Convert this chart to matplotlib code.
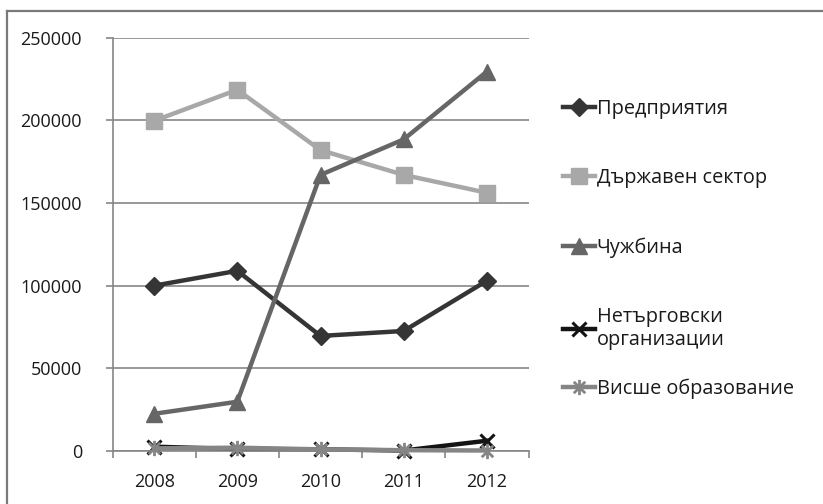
import matplotlib
matplotlib.use("Agg")
import matplotlib.pyplot as plt
from matplotlib.lines import Line2D
from matplotlib.path import Path

plt.rcParams['font.family'] = ['Open Sans', 'DejaVu Sans']

years = ['2008', '2009', '2010', '2011', '2012']
enterprises = [100000, 109000, 69600, 72600, 103000]
state_sector = [199700, 218500, 182000, 167000, 156200]
abroad = [22500, 29800, 167000, 188500, 229500]
nonprofit = [2600, 1200, 1000, 300, 6200]
higher_edu = [1600, 2000, 1000, 500, 300]

labels = ['Предприятия', 'Държавен сектор', 'Чужбина',
          'Нетърговски\nорганизации', 'Висше образование']
yticks = [0, 50000, 100000, 150000, 200000, 250000]

grid_c = '#868686'

# asterisk marker: X plus a vertical bar
star = Path([(0, -1), (0, 1), (-0.75, -0.75), (0.75, 0.75), (-0.75, 0.75), (0.75, -0.75)],
            [Path.MOVETO, Path.LINETO, Path.MOVETO, Path.LINETO, Path.MOVETO, Path.LINETO])

fig = plt.figure(figsize=(8.23, 5.04), dpi=100)
ax = fig.add_axes([112.5 / 823, 1 - 451 / 504, 416 / 823, 413.3 / 504])

x = range(len(years))
lw = 3.2
h1, = ax.plot(x, enterprises, color='#353535', lw=lw, marker='D', ms=9, label=labels[0])
h2, = ax.plot(x, state_sector, color='#a8a8a8', lw=lw, marker='s', ms=12, label=labels[1])
h3, = ax.plot(x, abroad, color='#666666', lw=lw, marker='^', ms=12, label=labels[2])
h4, = ax.plot(x, nonprofit, color='#141414', lw=lw, marker='x', ms=10, mew=2.2, label=labels[3])
h5, = ax.plot(x, higher_edu, color='#858585', lw=lw, marker=star, ms=11, mew=2,
              label=labels[4])
for h in (h1, h2, h3, h4, h5):
    h.set_clip_on(False)

ax.set_xlim(-0.5, len(years) - 0.5)
ax.set_ylim(0, 250000)
ax.set_yticks(yticks)
ax.set_yticklabels([str(v) for v in yticks])
ax.set_xticks(list(x))
ax.set_xticklabels(years)
ax.set_xticks([i - 0.5 for i in range(len(years) + 1)], minor=True)

ax.yaxis.grid(True, color=grid_c, lw=1.2)
ax.set_axisbelow(True)
for s in ('top', 'right'):
    ax.spines[s].set_visible(False)
for s in ('left', 'bottom'):
    ax.spines[s].set_color(grid_c)
    ax.spines[s].set_linewidth(1.2)

ax.tick_params(axis='y', direction='out', length=5, width=1.2, color=grid_c,
               labelsize=13, pad=17, labelcolor='#1a1a1a')
ax.tick_params(axis='x', which='major', length=0, labelsize=13, pad=16,
               labelcolor='#1a1a1a')
ax.tick_params(axis='x', which='minor', direction='out', length=5, width=1.2, color=grid_c)

kw = dict(frameon=False, fontsize=14.3, handlelength=1.6, handletextpad=0.1,
          borderpad=0, borderaxespad=0, bbox_transform=fig.transFigure,
          labelcolor='#1a1a1a')
leg1 = ax.legend(handles=[h1, h2, h3, h4], loc='upper left',
                 bbox_to_anchor=(563 / 823, 1 - 99 / 504), labelspacing=2.48,
                 **kw)
ax.add_artist(leg1)
ax.legend(handles=[h5], loc='center left', bbox_to_anchor=(563 / 823, 1 - 389 / 504), **kw)

# outer frame of the chart area
fig.add_artist(Line2D([7 / 823, 1], [1 - 11 / 504, 1 - 11 / 504], color='#7a7a7a', lw=1.6))
fig.add_artist(Line2D([7 / 823, 7 / 823], [0, 1 - 11 / 504], color='#7a7a7a', lw=1.6))

fig.savefig('out.png', dpi=100)
